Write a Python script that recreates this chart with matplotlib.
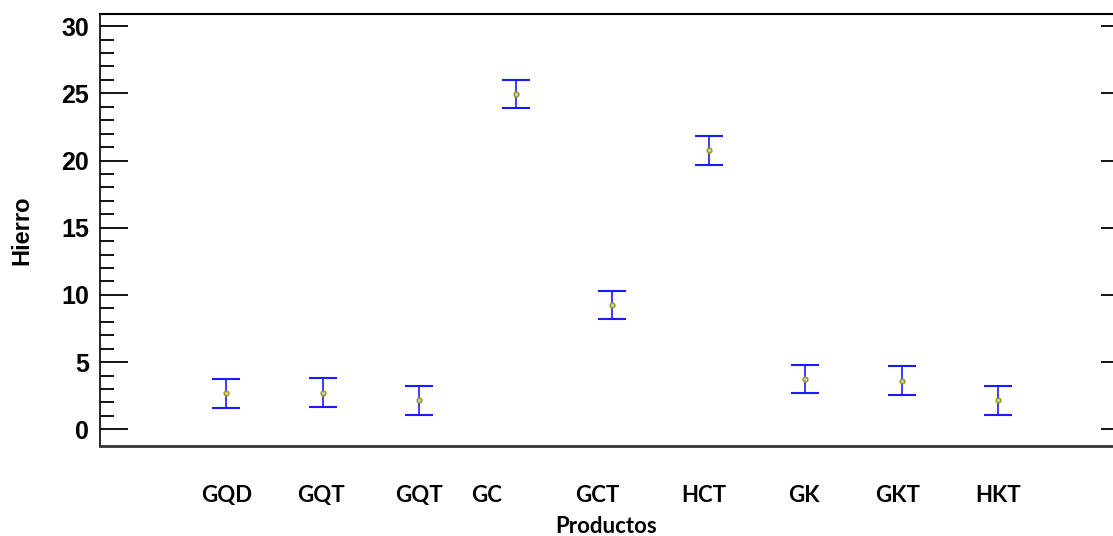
import numpy as np
import matplotlib.pyplot as plt
import matplotlib.transforms as mtransforms

productos = ['GQD', 'GQT', 'GQT', 'GC', 'GCT', 'HCT', 'GK', 'GKT', 'HKT']
hierro = [2.68, 2.73, 2.16, 24.93, 9.25, 20.75, 3.74, 3.62, 2.16]
error = [1.06, 1.06, 1.06, 1.06, 1.06, 1.06, 1.06, 1.06, 1.06]

x = np.arange(1, len(productos) + 1)

fig = plt.figure(figsize=(11.13, 5.36), dpi=100)
ax = fig.add_axes([100/1113, 90/536, 1013/1113, 432/536])

ax.errorbar(x, hierro, yerr=error, fmt='none', ecolor='#1a1aff',
            elinewidth=1.2, capsize=10, capthick=1.5)
ax.plot(x, hierro, 'o', ms=3.5, mfc='#c8c8b0', mec='#9a9a10', mew=1)

ax.set_xlim(-0.31, 10.19)
ax.set_ylim(-1.24, 30.9)

# spines
ax.spines['right'].set_visible(False)
ax.spines['left'].set_linewidth(1.2)
ax.spines['top'].set_linewidth(1.5)
ax.spines['bottom'].set_linewidth(2)
ax.spines['bottom'].set_color('#333333')

# y ticks
ax.set_yticks(np.arange(0, 31, 5))
ax.set_yticks(np.arange(0, 31, 1), minor=True)
ax.tick_params(axis='y', which='major', direction='in', length=20, width=1.3,
               labelsize=18, pad=8, right=True)
ax.tick_params(axis='y', which='minor', direction='in', length=10, width=1.3)
ax.yaxis.set_tick_params(which='minor', right=False)
for t in ax.yaxis.get_major_ticks():
    t.tick2line.set_markersize(9)
for lab in ax.get_yticklabels():
    lab.set_fontweight('bold')
    lab.set_family('Liberation Sans')

# x labels
ax.set_xticks(x)
ax.set_xticklabels(productos, family='Lato', fontweight='bold', fontsize=16)
ax.tick_params(axis='x', length=0, pad=28)
shifts = [0, -2, 0, -29, -15, -5, -1, -4, 0]
for lab, dx in zip(ax.get_xticklabels(), shifts):
    lab.set_transform(lab.get_transform() +
                      mtransforms.ScaledTranslation(dx / 100, 0, fig.dpi_scale_trans))

ax.set_xlabel('Productos', family='Lato', fontweight='bold', fontsize=16, labelpad=7)
ax.set_ylabel('Hierro', family='Liberation Sans', fontweight='bold', fontsize=17, labelpad=20)

fig.savefig('out.png', dpi=100)
